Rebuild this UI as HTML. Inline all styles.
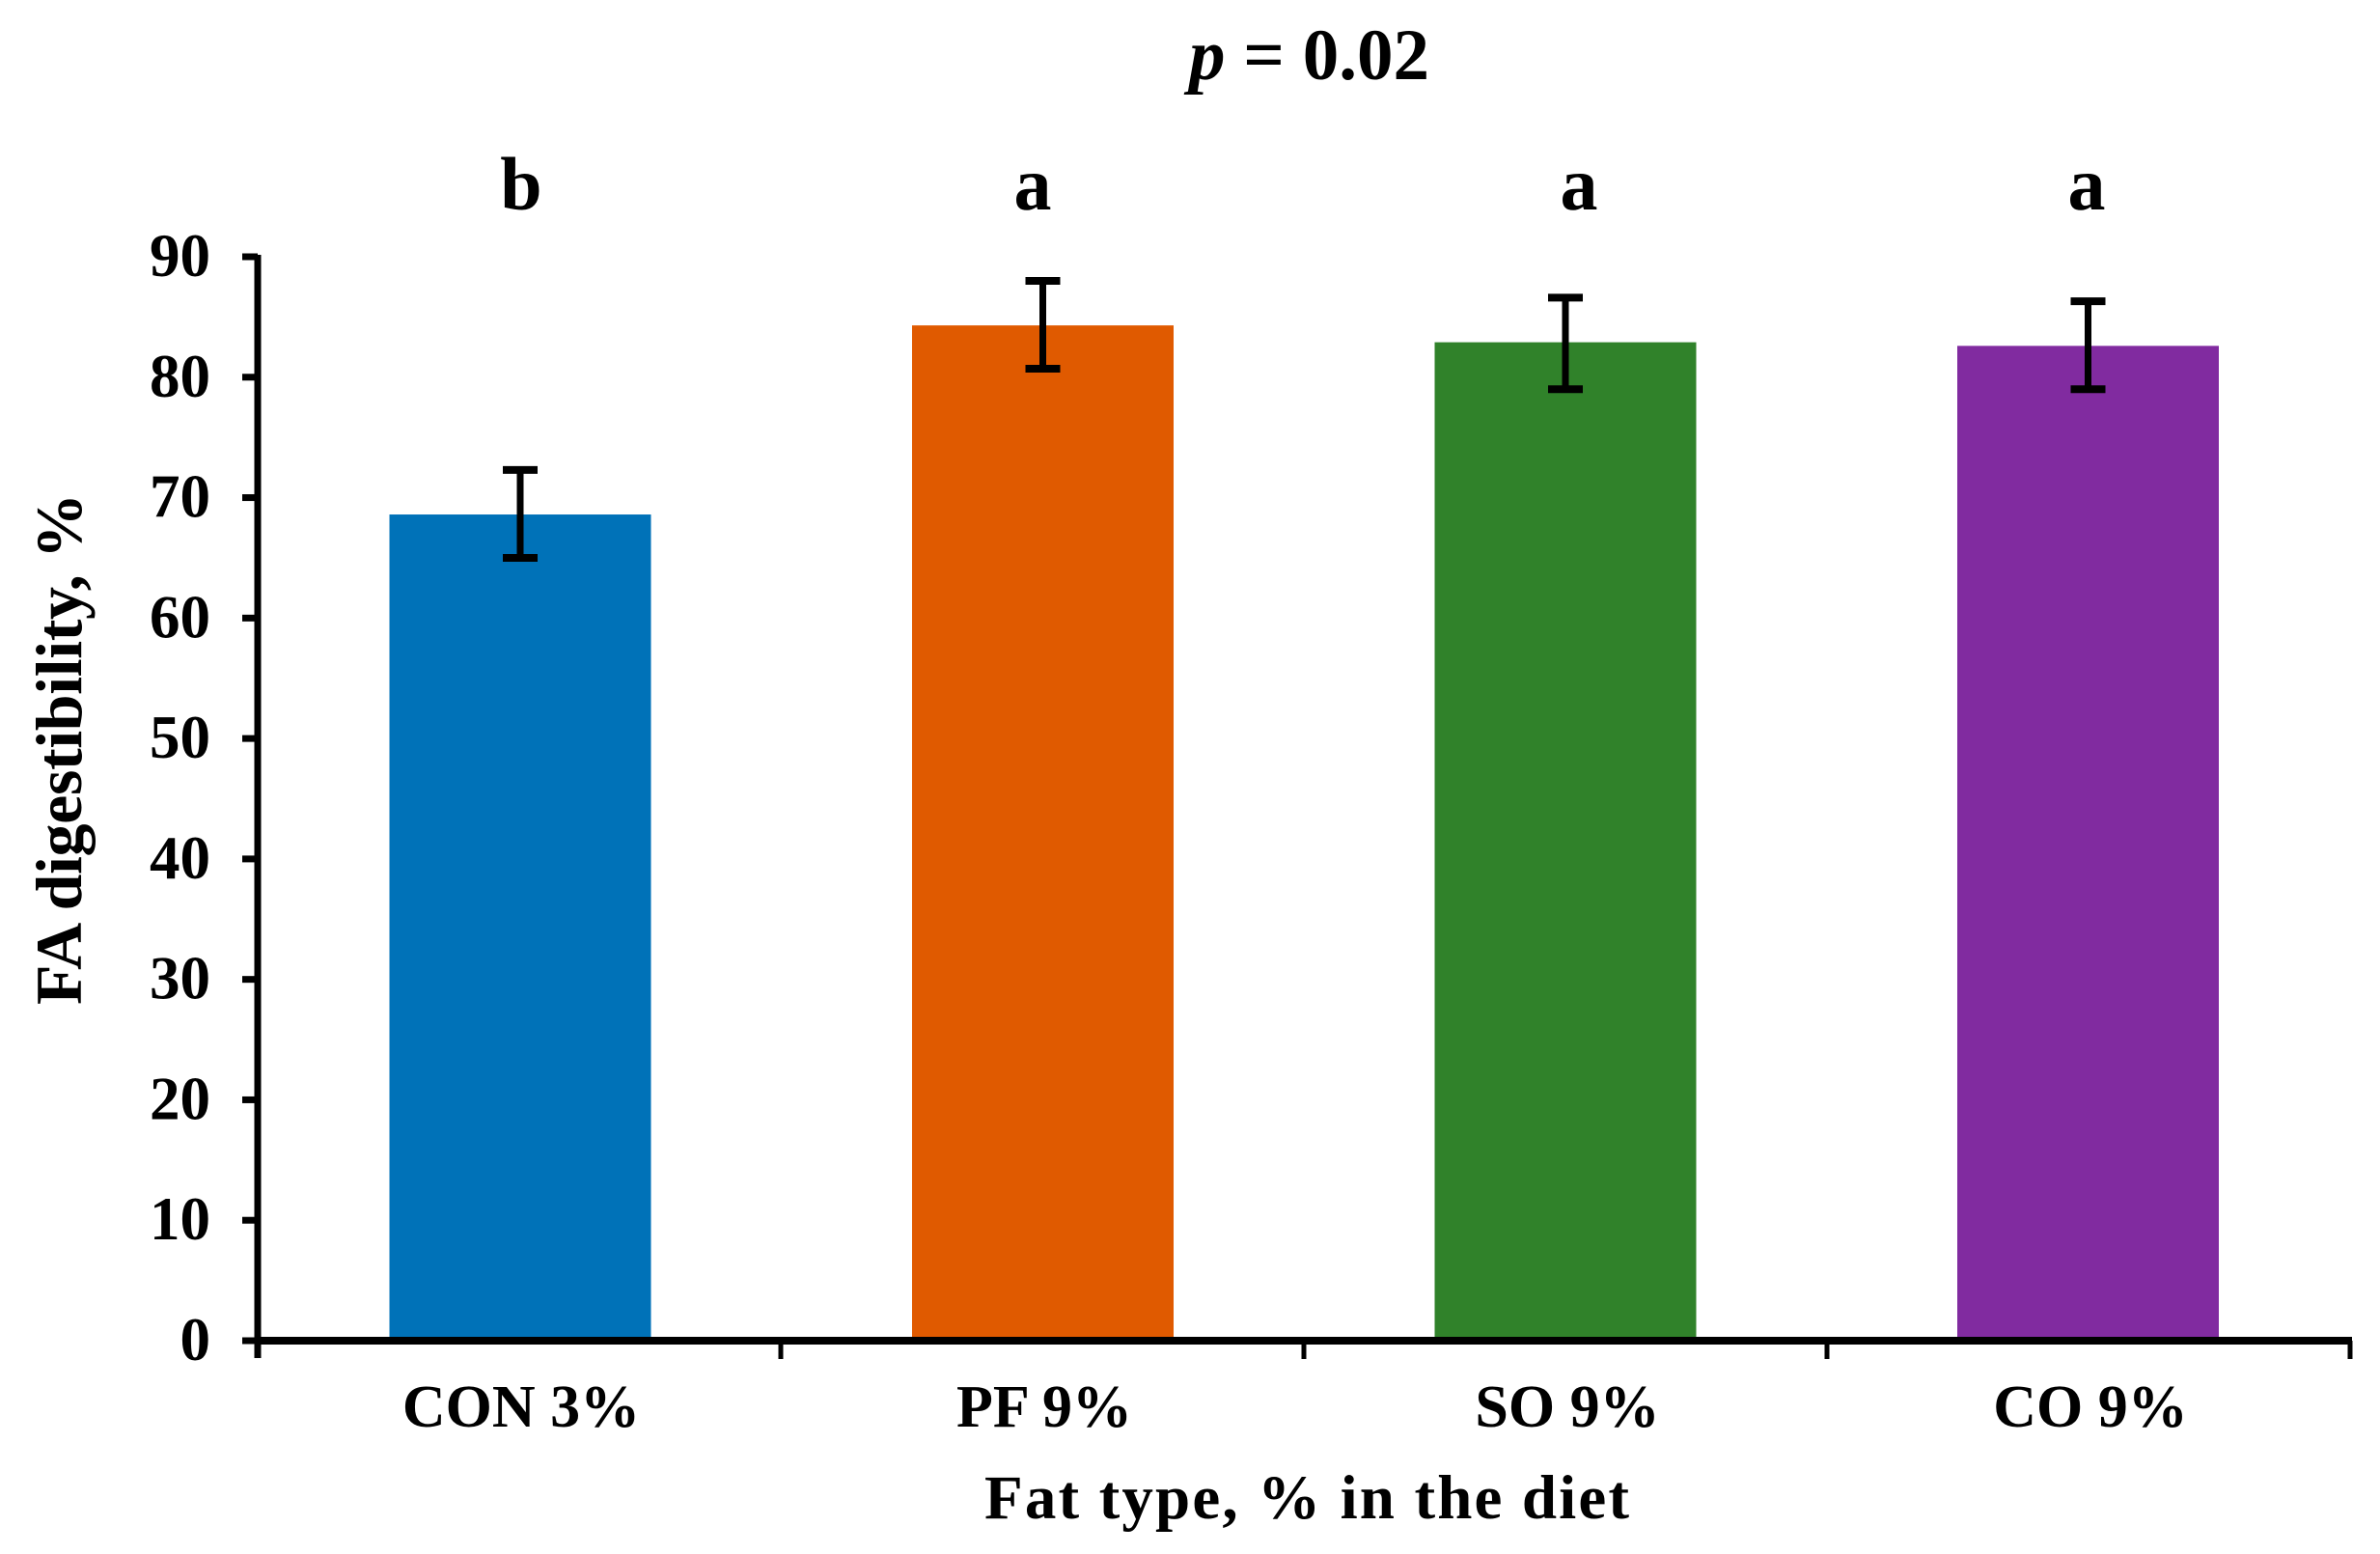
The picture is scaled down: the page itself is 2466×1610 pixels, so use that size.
<!DOCTYPE html>
<html lang="en">
<head>
<meta charset="utf-8">
<title>FA digestibility by fat type</title>
<style>
html,body{margin:0;padding:0;background:#fff;width:2466px;height:1610px;overflow:hidden}
svg{display:block}
text{font-family:"Liberation Serif",serif;font-weight:bold;fill:#000;white-space:pre}
</style>
</head>
<body>
<svg id="chart" xmlns="http://www.w3.org/2000/svg" width="2466" height="1610" viewBox="0 0 2466 1610">
<rect x="0" y="0" width="2466" height="1610" fill="#ffffff"/>
<text x="1232" y="82" font-size="75"><tspan font-style="italic">p</tspan> = 0.02</text>
<text transform="translate(84,1041) rotate(-90)" font-size="68" textLength="530" lengthAdjust="spacing">FA digestibility, %</text>
<text x="1020" y="1573" font-size="65" textLength="668" lengthAdjust="spacing">Fat type, % in the diet</text>
<text x="540" y="217" text-anchor="middle" font-size="78">b</text>
<text x="1070" y="217" text-anchor="middle" font-size="78">a</text>
<text x="1636" y="217" text-anchor="middle" font-size="78">a</text>
<text x="2162" y="217" text-anchor="middle" font-size="78">a</text>
<g id="marks"></g>
</svg>
<script>
const categories = ['CON 3%', 'PF 9%', 'SO 9%', 'CO 9%'];
const values = [68.6, 84.3, 82.9, 82.6];
const errorUpper = [72.3, 88.0, 86.6, 86.3];
const errorLower = [65.0, 80.7, 79.0, 79.0];
const barColors = ['#0072b8', '#e05a00', '#30822a', '#812ba0'];
const tickLabels = [0, 10, 20, 30, 40, 50, 60, 70, 80, 90];

const NS = 'http://www.w3.org/2000/svg';
const marks = document.getElementById('marks');
const plotLeft = 267, plotRight = 2435, plotBottom = 1389, plotTop = 266;
const yMax = 90;
const step = (plotRight - plotLeft) / categories.length;
const barStep = step - 0.5;
const barWidth = 0.5 * step;

function yScale(v) { return plotBottom - (v / yMax) * (plotBottom - plotTop); }
function xCenter(i) { return plotLeft + 272 + barStep * i; }
function labelCenter(i) { return plotLeft + step * (i + 0.5) + 2; }

function make(tag, attrs, text) {
  const el = document.createElementNS(NS, tag);
  for (const k in attrs) el.setAttribute(k, attrs[k]);
  if (text !== undefined) el.textContent = text;
  marks.appendChild(el);
  return el;
}

categories.forEach(function (cat, i) {
  const cx = xCenter(i);
  const top = yScale(values[i]);
  const bar = make('rect', { x: cx - barWidth / 2, y: top, width: barWidth, height: plotBottom - top, fill: barColors[i] });
  
  
});

const yAxis = make('line', { x1: plotLeft, x2: plotLeft, y1: plotTop - 2, y2: plotBottom + 18, stroke: '#000', 'stroke-width': 7 });



const xAxis = make('line', { x1: plotLeft, x2: plotRight + 2, y1: plotBottom, y2: plotBottom, stroke: '#000', 'stroke-width': 8 });



tickLabels.forEach(function (t) {
  const y = yScale(t);
  const tick = make('line', { x1: 251, x2: plotLeft, y1: y, y2: y, stroke: '#000', 'stroke-width': 7 });
  
  
  const label = make('text', { x: 218, y: y + 20, 'text-anchor': 'end', 'font-size': 63 }, String(t));
  
  
});

for (let i = 1; i <= categories.length; i++) {
  const x = plotLeft + step * i;
  const tick = make('line', { x1: x, x2: x, y1: plotBottom, y2: plotBottom + 19, stroke: '#000', 'stroke-width': 5 });
  
  
}

categories.forEach(function (cat, i) {
  const cx = xCenter(i);
  const yHi = yScale(errorUpper[i]);
  const yLo = yScale(errorLower[i]);
  const stem = make('line', { x1: cx, x2: cx, y1: yHi, y2: yLo, stroke: '#000', 'stroke-width': 7 });
  
  
  const capTop = make('line', { x1: cx - 18, x2: cx + 18, y1: yHi, y2: yHi, stroke: '#000', 'stroke-width': 8 });
  
  
  const capBottom = make('line', { x1: cx - 18, x2: cx + 18, y1: yLo, y2: yLo, stroke: '#000', 'stroke-width': 8 });
  
  
  const label = make('text', { x: labelCenter(i), y: 1478, 'text-anchor': 'middle', 'font-size': 62 }, cat);
  
  
});
</script>
</body>
</html>
